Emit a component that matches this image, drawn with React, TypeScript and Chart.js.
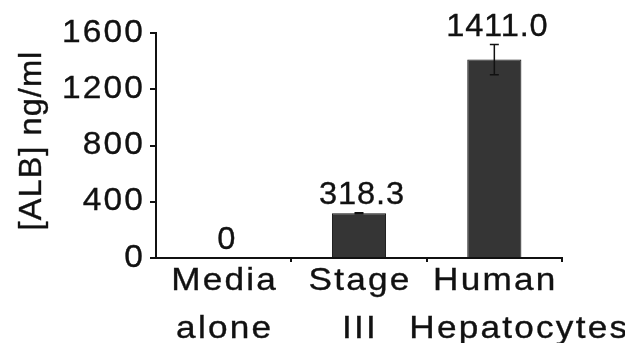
import { useEffect, useRef } from "react";
import { Chart, registerables } from "chart.js";
Chart.register(...registerables);

const categories = [["Media", "alone"], ["Stage", "III"], ["Human", "    Hepatocytes"]];
const albValues = [0, 318.3, 1411.0];
const albErrors = [0, 3, 107];
const valueLabels = ["0", "318.3", "1411.0"];
const yLabeledTicks = [0, 400, 800, 1200, 1600];
const yMin = 0;
const yMax = 1600;
const yStep = 200;
const yTitle = "[ALB] ng/ml";

const FONT = "'Liberation Sans', Arial, sans-serif";
const INK = "#111";

// draw text slightly stretched & letter-spaced around its anchor
function withStretchedText(ctx: any, sx: number, sp: number, dx: number, fn: () => void) {
  const orig = ctx.fillText;
  ctx.fillText = function (text: string, x: number, y: number) {
    this.save();
    this.translate(x + dx, y);
    this.scale(sx, 1);
    this.letterSpacing = sp + "px";
    this.lineWidth = 0.35;
    this.strokeStyle = this.fillStyle;
    this.strokeText(text, 0, 0);
    orig.call(this, text, 0, 0);
    this.restore();
  };
  try {
    fn();
  } finally {
    delete ctx.fillText;
  }
}

const textPlugin = {
  id: "stretchText",
  beforeDraw(chart: any) {
    const ctx = chart.ctx;
    const wrap = (scale: any, name: string, sx: number, sp: number, dx: number) => {
      if (!scale || scale["__w_" + name]) return;
      const orig = scale[name];
      scale[name] = function (...args: any[]) {
        withStretchedText(ctx, sx, sp, dx, () => orig.apply(this, args));
      };
      scale["__w_" + name] = true;
    };
    wrap(chart.scales.x, "drawLabels", 1.1, 2, 1);
    wrap(chart.scales.y, "drawLabels", 1.08, 2, 0);
    wrap(chart.scales.y, "drawTitle", 1.05, 1, 5);
  },
};

const annotatePlugin = {
  id: "annotate",
  afterDatasetsDraw(chart: any) {
    const { ctx } = chart;
    const meta = chart.getDatasetMeta(0);
    const ys = chart.scales.y;
    ctx.save();
    meta.data.forEach((bar: any, i: number) => {
      const v = albValues[i];
      const e = albErrors[i];
      const x = bar.x;
      if (e > 0) {
        const yt = ys.getPixelForValue(v + e);
        const yb = ys.getPixelForValue(v - e);
        ctx.strokeStyle = INK;
        ctx.lineWidth = 1.5;
        ctx.beginPath();
        ctx.moveTo(x, yt);
        ctx.lineTo(x, yb);
        ctx.moveTo(x - 4.5, yt);
        ctx.lineTo(x + 4.5, yt);
        ctx.moveTo(x - 4.5, yb);
        ctx.lineTo(x + 4.5, yb);
        ctx.stroke();
      }
      ctx.font = `32px ${FONT}`;
      ctx.fillStyle = INK;
      ctx.textAlign = "center";
      ctx.textBaseline = "alphabetic";
      withStretchedText(ctx, 1.02, 0.8, 3, () => {
        ctx.fillText(valueLabels[i], x, ys.getPixelForValue(v + e) - 9);
      });
    });
    ctx.restore();
  },
};

export default function App() {
  const ref = useRef<HTMLCanvasElement>(null);
  useEffect(() => {
    if (!ref.current) return;
    const chart = new Chart(ref.current, {
      type: "bar",
      data: {
        labels: categories,
        datasets: [
          {
            data: albValues,
            backgroundColor: "#353535",
            borderColor: "#111",
            borderWidth: 1,
            categoryPercentage: 1,
            barPercentage: 0.4,
          },
        ],
      },
      plugins: [textPlugin, annotatePlugin],
      options: {
        animation: false,
        responsive: true,
        maintainAspectRatio: false,
        layout: { padding: { top: 33, right: 63, left: 0, bottom: 0 } },
        plugins: { legend: { display: false }, tooltip: { enabled: false } },
        scales: {
          x: {
            offset: true,
            afterFit: (s: any) => {
              s.height = 85;
              s.paddingLeft = 0;
              s.paddingRight = 0;
            },
            border: { display: true, color: INK, width: 2 },
            grid: {
              offset: true,
              drawOnChartArea: false,
              drawTicks: true,
              tickLength: 4,
              lineWidth: 2,
              color: (c: any) => (c.index === 0 || c.index === categories.length ? "rgba(0,0,0,0)" : INK),
            },
            ticks: {
              color: INK,
              font: { family: FONT, size: 32, lineHeight: 1.5 },
              padding: -5,
              maxRotation: 0,
              minRotation: 0,
              autoSkip: false,
            },
          },
          y: {
            min: yMin,
            max: yMax,
            afterFit: (s: any) => {
              s.width = 156;
              s.paddingTop = 0;
              s.paddingBottom = 0;
            },
            border: { display: true, color: INK, width: 2 },
            grid: { drawOnChartArea: false, drawTicks: true, tickLength: 6, lineWidth: 2, color: INK },
            title: {
              display: true,
              text: yTitle,
              color: INK,
              font: { family: FONT, size: 31 },
              padding: { top: 14, bottom: 0 },
            },
            ticks: {
              stepSize: yStep,
              color: INK,
              font: { family: FONT, size: 31 },
              padding: 5,
              callback: (v: any) => (yLabeledTicks.includes(Number(v)) ? String(v) : ""),
            },
          },
        },
      },
    });
    return () => chart.destroy();
  }, []);
  return (
    <div style={{ position: "fixed", left: 0, top: 0, width: 625, height: 343 }}>
      <canvas ref={ref} />
    </div>
  );
}
